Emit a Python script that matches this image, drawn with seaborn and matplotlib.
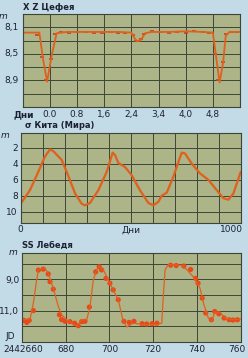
import numpy as np
import pandas as pd
import matplotlib
matplotlib.use("Agg")
import matplotlib.pyplot as plt
from matplotlib.transforms import ScaledTranslation
import seaborn as sns

# ---------------- data ----------------
# XZ Cephei (eclipsing binary), days vs magnitude
xz_days = [-0.8, -0.5, -0.31, -0.2, -0.08, 0.05, 0.2, 0.5, 1.0, 1.5, 2.0, 2.4, 2.5,
           2.57, 2.7, 2.8, 3.0, 3.5, 4.0, 4.5, 4.8, 4.9, 5.0, 5.1, 5.18, 5.29, 5.58]
xz_mag = [8.18, 8.18, 8.18, 8.58, 8.92, 8.53, 8.19, 8.17, 8.17, 8.17, 8.17, 8.18, 8.27,
          8.31, 8.28, 8.19, 8.17, 8.17, 8.16, 8.17, 8.18, 8.56, 8.93, 8.64, 8.23, 8.17, 8.17]
xz_obs_days = [-0.39, -0.22, -0.1, 0.04, 0.16, 0.32, 0.55, 0.8, 1.05, 1.3, 1.55, 1.8, 2.0,
               2.2, 2.45, 2.55, 2.62, 2.68, 2.78, 3.0, 3.25, 3.5, 3.75, 4.0, 4.25, 4.5,
               4.68, 4.86, 4.95, 5.1, 5.2, 5.35, 5.5]
xz_obs_mag = [8.22, 8.55, 8.9, 8.57, 8.2, 8.17, 8.18, 8.17, 8.17, 8.18, 8.19, 8.17, 8.18,
              8.18, 8.22, 8.3, 8.31, 8.28, 8.2, 8.16, 8.17, 8.18, 8.17, 8.18, 8.15, 8.17,
              8.18, 8.5, 8.9, 8.62, 8.2, 8.17, 8.17]
xz_ticks = [0.0, 0.8, 1.6, 2.4, 3.2, 4.0, 4.8]
xz_ticklabels = ["0.0", "0.8", "1,6", "2,4", "3,4", "4,0", "4,8"]
xz_ytick = [8.1, 8.5, 8.9]
xz_yticklabels = ["8,1", "8,5", "8,9"]

# Omicron Ceti (Mira), days vs magnitude
mira_days = [0, 42, 80, 110, 133, 148, 186, 209, 247, 277, 292, 315, 353, 391, 418, 429,
             444, 474, 504, 542, 580, 603, 626, 641, 664, 694, 717, 732, 747, 777, 815,
             853, 891, 921, 944, 967, 1000]
mira_mag = [9.0, 7.3, 5.0, 3.1, 2.2, 2.4, 3.5, 5.0, 7.7, 9.0, 9.2, 8.9, 7.3, 5.0, 2.6, 2.9,
            3.9, 4.4, 5.4, 7.3, 8.9, 9.2, 8.75, 8.0, 7.6, 5.6, 3.75, 2.6, 2.7, 3.96, 5.2,
            6.0, 7.3, 8.3, 8.5, 7.7, 5.0]
mira_yticks = [2, 4, 6, 8, 10]

# SS Cygni (dwarf nova), JD-2442000 vs magnitude
ss_days = [660, 663.7, 665.2, 666.7, 667.5, 670.5, 672, 674.3, 676.6, 678.1, 680.4, 685,
           687.3, 689.6, 691.1, 692.6, 694.2, 695.3, 697.2, 699.5, 701.7, 704, 706.3, 707.9,
           710.9, 715.5, 721.6, 723.9, 724.6, 725.4, 726.9, 733, 735.3, 738.3, 741.4,
           743.2, 745.2, 746.7, 748.2, 750.5, 752.8, 756.6, 760]
ss_mag = [11.58, 11.53, 10.5, 9.04, 8.37, 8.3, 8.62, 9.57, 10.73, 11.26, 11.58, 12.0,
          11.6, 11.58, 10.73, 9.04, 8.37, 8.16, 8.4, 9.04, 9.67, 10.3, 11.68, 12.04,
          11.79, 11.9, 11.9, 11.79, 10.1, 8.41, 8.05, 8.1, 8.37, 8.84, 9.57,
          10.63, 11.47, 11.68, 11.1, 11.1, 11.47, 11.58, 11.53]
ss_obs_days = [660.9, 662.2, 663.3, 665.2, 667.5, 669.7, 672.0, 672.8, 674.3, 677.1, 678.1,
               679.7, 681.9, 684.0, 685.7, 687.3, 688.8, 690.8, 693.7, 695.3, 696.4, 698.4,
               700.2, 701.7, 704.0, 706.6, 709.0, 711.2, 714.9, 717.0, 719.5, 721.7,
               728.0, 730.5, 734.0, 737.1, 739.4, 740.5, 742.4, 744.0, 746.6, 748.1,
               750.0, 752.4, 754.7, 756.5, 758.5]
ss_obs_mag = [11.62, 11.75, 11.62, 11.0, 8.41, 8.35, 8.66, 9.15, 9.63, 11.26, 11.57,
              11.68, 11.7, 11.8, 11.96, 11.7, 11.68, 10.77, 8.52, 8.2, 8.4, 8.94,
              9.25, 9.67, 10.3, 11.68, 11.75, 11.68, 11.83, 11.85, 11.83, 11.8,
              8.1, 8.12, 8.15, 8.37, 8.94, 9.25, 10.2, 11.15, 11.58, 11.05,
              11.2, 11.47, 11.58, 11.6, 11.58]
ss_xticks = [660, 680, 700, 720, 740, 760]
ss_xticklabels = ["2442660", "680", "700", "720", "740", "760"]
ss_yticks = [9, 11]
ss_yticklabels = ["9,0", "11,0"]

# ---------------- style ----------------
sns.set_theme(style="white")
plt.rcParams['font.family'] = ['DejaVu Sans']

BG = "#c3dbe6"
PANEL = "#adb487"
GRID = "#3c4638"
CURVE = "#e0601e"
DOT = "#e8481a"
TXT = "#1c2233"
FS = 6.5

W, H = 248, 358
fig = plt.figure(figsize=(W / 100, H / 100), dpi=100, facecolor=BG)


def ax_at(left, top, right, bottom):
    return fig.add_axes([left / W, 1 - bottom / H, (right - left) / W, (bottom - top) / H])


def style_ax(ax):
    ax.set_facecolor(PANEL)
    for s in ax.spines.values():
        s.set_color(GRID)
        s.set_linewidth(0.8)
    ax.tick_params(length=0, pad=2, labelsize=FS, colors=TXT)
    ax.grid(True, color=GRID, linewidth=0.7)
    ax.set_xlabel("")
    ax.set_ylabel("")


def shift(label, dx_px):
    label.set_transform(label.get_transform() + ScaledTranslation(dx_px / 100, 0, fig.dpi_scale_trans))


# ---- panel 1: XZ Cep
ax1 = ax_at(22.7, 14, 240, 107)
df1 = pd.DataFrame({"t": xz_days, "m": xz_mag})
sns.lineplot(data=df1, x="t", y="m", ax=ax1, color=CURVE, linewidth=1.3, sort=False)
dfo1 = pd.DataFrame({"t": xz_obs_days, "m": xz_obs_mag})
sns.scatterplot(data=dfo1, x="t", y="m", ax=ax1, marker="_", s=10, color="#c8401a",
                linewidth=1.2)
ax1.set_xlim(-0.8, 5.6)
ax1.set_ylim(9.3, 7.9)
ax1.set_xticks(np.arange(-0.8, 5.61, 0.8))
ax1.set_xticklabels([""] + xz_ticklabels + [""])
ax1.set_yticks(np.arange(7.9, 9.31, 0.2), minor=False)
ax1.set_yticklabels([""] * len(np.arange(7.9, 9.31, 0.2)))
for v, lab in zip(xz_ytick, xz_yticklabels):
    ax1.text(-0.02, v, lab, transform=ax1.get_yaxis_transform(), ha="right", va="center",
             fontsize=FS, color=TXT)
style_ax(ax1)
ax1.text(0.0, 1.02, "X Z Цефея", transform=ax1.transAxes, ha="left", va="bottom",
         fontsize=6, fontweight="bold", color=TXT)
ax1.text(-0.07, 0.97, "m", transform=ax1.transAxes, ha="right", va="center",
         fontsize=6.5, style="italic", color=TXT)
ax1.text(0.005, -0.04, "Дни", transform=ax1.transAxes, ha="center", va="top",
         fontsize=FS, fontweight="bold", color=TXT)

# ---- panel 2: Mira
ax2 = ax_at(20.7, 132.7, 240.7, 222.5)
df2 = pd.DataFrame({"t": mira_days, "m": mira_mag})
sns.lineplot(data=df2, x="t", y="m", ax=ax2, color=CURVE, linewidth=1.6, sort=False)
ax2.set_xlim(0, 1000)
ax2.set_ylim(11.35, 0.1)
ax2.set_xticks(range(0, 1001, 100))
labs = [""] * 11
labs[0], labs[5], labs[10] = "0", "Дни", "1000"
ax2.set_xticklabels(labs)
ax2.set_yticks(mira_yticks)
ax2.set_yticklabels([str(v) for v in mira_yticks])
style_ax(ax2)
shift(ax2.get_xticklabels()[10], -9)
ax2.text(0.02, 1.03, "σ Кита (Мира)", transform=ax2.transAxes, ha="left", va="bottom",
         fontsize=6, fontweight="bold", color=TXT)
ax2.text(-0.05, 0.97, "m", transform=ax2.transAxes, ha="right", va="center",
         fontsize=6.5, style="italic", color=TXT)

# ---- panel 3: SS Cyg
ax3 = ax_at(22, 252.7, 240.7, 342)
df3 = pd.DataFrame({"t": ss_days, "m": ss_mag})
sns.lineplot(data=df3, x="t", y="m", ax=ax3, color=CURVE, linewidth=0.9, sort=False)
dfo3 = pd.DataFrame({"t": ss_obs_days, "m": ss_obs_mag})
sns.scatterplot(data=dfo3, x="t", y="m", ax=ax3, s=14, color=DOT, edgecolor="none")
ax3.set_xlim(660, 760)
ax3.set_ylim(13.0, 7.3)
ax3.set_xticks(ss_xticks)
ax3.set_xticklabels(ss_xticklabels)
ax3.set_yticks([8, 9, 10, 11, 12])
ax3.set_yticklabels(["", "9,0", "", "11,0", ""])
style_ax(ax3)
shift(ax3.get_xticklabels()[0], 1)
shift(ax3.get_xticklabels()[-1], -4)
ax3.text(0.0, 1.03, "SS Лебедя", transform=ax3.transAxes, ha="left", va="bottom",
         fontsize=6, fontweight="bold", color=TXT)
ax3.text(-0.02, 1.0, "m", transform=ax3.transAxes, ha="right", va="center",
         fontsize=6.5, style="italic", color=TXT)
ax3.text(-0.03, 0.06, "JD", transform=ax3.transAxes, ha="right", va="center",
         fontsize=FS, color=TXT)

fig.savefig("out.png", dpi=100, facecolor=BG)
